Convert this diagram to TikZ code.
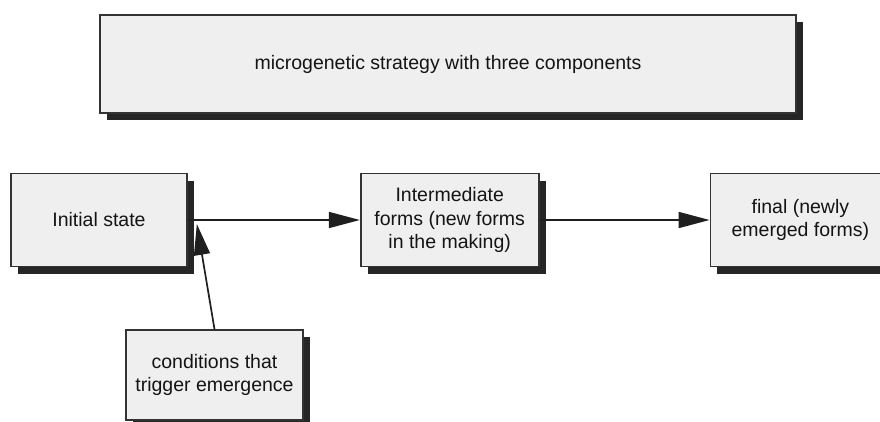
\documentclass[tikz,border=0pt]{standalone}
\usepackage{fontspec}
\setmainfont{Liberation Sans}
\usetikzlibrary{positioning,shadows,arrows.meta}
\definecolor{boxfill}{HTML}{EFEFEF}
\definecolor{boxline}{HTML}{333333}
\definecolor{shade}{HTML}{262626}
\begin{document}
\begin{tikzpicture}[
    x=1pt, y=-1pt,
    stage/.style={rectangle, draw=boxline, line width=1.7pt, fill=boxfill,
        minimum width=177pt, minimum height=93pt, align=center, text=black!92,
        font=\fontsize{19.5}{23.5}\selectfont, inner sep=0pt,
        general shadow={fill=shade, shadow xshift=7pt, shadow yshift=-7pt}},
    heading/.style={stage, minimum width=696pt, minimum height=98pt},
    flow/.style={draw=black!88, line width=1.7pt, -{Triangle[length=31pt,width=16pt]}},
    node distance=172pt
]
\useasboundingbox (0,0) rectangle (880,421);

\node (Title) [heading] at (448,64) {microgenetic strategy with three components};

\node (Initial) [stage, minimum width=176pt] at (99,220) {Initial state};
\node (Intermediate) [stage, minimum width=178pt, right=172pt of Initial]
  {Intermediate\\forms (new forms\\in the making)};
\node (Final) [stage, minimum width=180pt, right=170pt of Intermediate]
  {final (newly\\emerged forms)};
\node (Conditions) [stage, minimum height=90pt] at (214.5,375)
  {conditions that\\trigger emergence};

\coordinate (Hit) at ([xshift=9pt,yshift=-4pt]Initial.east);

\draw[flow] (Initial) -- (Intermediate);
\draw[flow] (Intermediate) -- (Final);
\draw[flow] (Conditions.north) -- (Hit);

\end{tikzpicture}
\end{document}
